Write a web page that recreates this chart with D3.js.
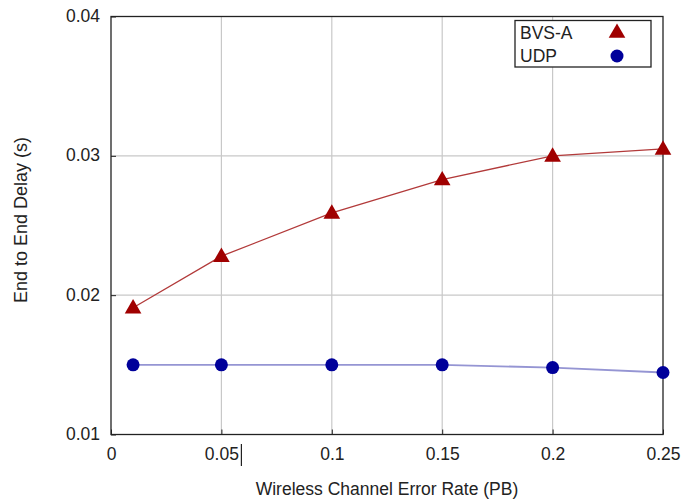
<!DOCTYPE html>
<html><head><meta charset="utf-8">
<script src="https://cdn.jsdelivr.net/npm/d3@7/dist/d3.min.js"></script>
<style>body{margin:0;background:#fff}svg{display:block}text{font-family:"Liberation Sans",Arial,sans-serif;fill:#222}</style>
</head><body>
<svg id="c" width="682" height="504"></svg>
<script>
const errorRates = [0.01, 0.05, 0.1, 0.15, 0.2, 0.25];
const bvsDelay = [0.0191, 0.0228, 0.0259, 0.0283, 0.0300, 0.0305];
const udpDelay = [0.0150, 0.0150, 0.0150, 0.0150, 0.0148, 0.01445];
const xTicks = [0, 0.05, 0.1, 0.15, 0.2, 0.25];
const xTickLabels = ["0", "0.05", "0.1", "0.15", "0.2", "0.25"];
const yTicks = [0.01, 0.02, 0.03, 0.04];
const yTickLabels = ["0.01", "0.02", "0.03", "0.04"];
const seriesNames = ["BVS-A", "UDP"];

const FS = 17.5;
const svg = d3.select("#c");
const L = 111, R = 663, T = 16.5, B = 434.5;
const x = d3.scaleLinear().domain([0, 0.25]).range([L, R]);
const y = d3.scaleLinear().domain([0.01, 0.04]).range([B, T]);

// grid
svg.append("g").selectAll("line").data(xTicks.slice(1, -1)).join("line")
  .attr("x1", d => x(d)).attr("x2", d => x(d)).attr("y1", T).attr("y2", B)
  .attr("stroke", "#c8c8c8").attr("stroke-width", 1.2);
svg.append("g").selectAll("line").data(yTicks.slice(1, -1)).join("line")
  .attr("x1", L).attr("x2", R).attr("y1", d => y(d)).attr("y2", d => y(d))
  .attr("stroke", "#c8c8c8").attr("stroke-width", 1.2);

// axes
const xAxis = d3.axisBottom(x).tickValues(xTicks).tickFormat((d, i) => xTickLabels[i]).tickSize(-5).tickPadding(13);
const yAxis = d3.axisLeft(y).tickValues(yTicks).tickFormat((d, i) => yTickLabels[i]).tickSize(-5).tickPadding(11);
const gx = svg.append("g").attr("transform", `translate(0,${B})`).call(xAxis);
const gy = svg.append("g").attr("transform", `translate(${L},0)`).call(yAxis);
[gx, gy].forEach(g => {
  g.select(".domain").remove();
  g.selectAll(".tick line").attr("stroke", "#222");
  g.selectAll(".tick text").attr("font-size", FS).attr("fill", "#222").style("font-family", '"Liberation Sans",Arial,sans-serif');
});
gy.selectAll(".tick text").attr("dy", "0.28em");
// frame
svg.append("rect").attr("x", L).attr("y", T).attr("width", R - L).attr("height", B - T)
  .attr("fill", "none").attr("stroke", "#222").attr("stroke-width", 1.3);

// odd cursor mark after 0.05
svg.append("line").attr("x1", x(0.05) + 20).attr("x2", x(0.05) + 20).attr("y1", 444).attr("y2", 466)
  .attr("stroke", "#222").attr("stroke-width", 1.2);

// lines
const line = d3.line().x(d => x(d[0])).y(d => y(d[1]));
const bvsPts = errorRates.map((e, i) => [e, bvsDelay[i]]);
const udpPts = errorRates.map((e, i) => [e, udpDelay[i]]);
svg.append("path").attr("d", line(bvsPts)).attr("fill", "none").attr("stroke", "#b23a3a").attr("stroke-width", 1.3);
svg.append("path").attr("d", line(udpPts)).attr("fill", "none").attr("stroke", "#7b7bc8").attr("stroke-width", 1.8).attr("opacity", 0.8);

const tri = d3.symbol().type(d3.symbolTriangle).size(120);
svg.append("g").selectAll("path").data(bvsPts).join("path")
  .attr("d", tri).attr("transform", d => `translate(${x(d[0])},${y(d[1]) + 1})`).attr("fill", "#a00000");
svg.append("g").selectAll("circle").data(udpPts).join("circle")
  .attr("cx", d => x(d[0])).attr("cy", d => y(d[1])).attr("r", 6.5).attr("fill", "#00009a");

// legend
const lg = svg.append("g");
lg.append("rect").attr("x", 515).attr("y", 20.5).attr("width", 136).attr("height", 46.5)
  .attr("fill", "#fff").attr("stroke", "#222").attr("stroke-width", 1.3);
lg.append("text").attr("x", 520).attr("y", 38.5).attr("font-size", FS).text(seriesNames[0]);
lg.append("text").attr("x", 520).attr("y", 61.5).attr("font-size", FS).text(seriesNames[1]);
lg.append("path").attr("d", tri).attr("transform", "translate(617,33)").attr("fill", "#a00000");
lg.append("circle").attr("cx", 617).attr("cy", 56).attr("r", 6.5).attr("fill", "#00009a");

// axis titles
svg.append("text").attr("x", 387).attr("y", 495).attr("text-anchor", "middle").attr("font-size", FS)
  .text("Wireless Channel Error Rate (PB)");
svg.append("text").attr("transform", "translate(27,220) rotate(-90)").attr("text-anchor", "middle").attr("font-size", 18)
  .text("End to End Delay (s)");
</script>
</body></html>
